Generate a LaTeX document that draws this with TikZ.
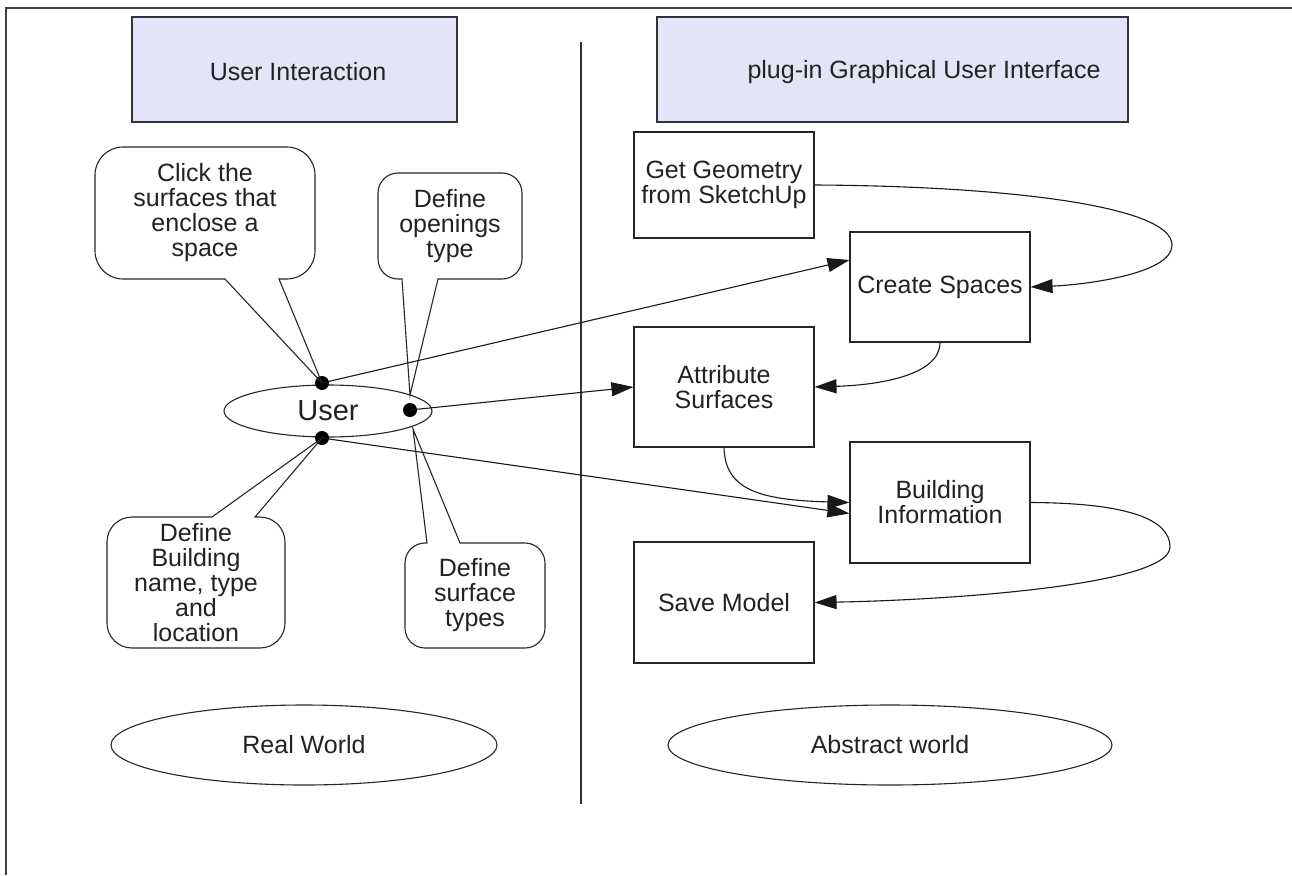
\documentclass[tikz,border=0pt]{standalone}
\usepackage{fontspec}
\setmainfont{Liberation Sans}
\usetikzlibrary{arrows.meta,shapes.geometric}
\definecolor{headfill}{RGB}{228,228,248}
\definecolor{ink}{RGB}{34,34,34}

\begin{document}
\begin{tikzpicture}[x=1pt,y=-1pt,
  every node/.style={font=\fontsize{25}{25}\selectfont, text=ink},
  frameline/.style={draw=black!75, line width=1.4pt},
  header/.style={draw=black!80, line width=1.2pt, fill=headfill, inner sep=0},
  stepbox/.style={draw=black!85, line width=1.1pt, minimum width=180pt, inner sep=0, align=center},
  world/.style={draw=black!85, line width=1.1pt, ellipse, inner sep=0},
  bubble/.style={draw=black!85, line width=1.1pt},
  dot/.style={circle, fill=black, minimum size=14pt, inner sep=0},
  flow/.style={draw=black!90, line width=1.1pt, -{Triangle[length=22pt,width=14pt]}},
  label/.style={align=center}
]
% canvas
\useasboundingbox (0,0) rectangle (1292,875);
\fill[white] (0,0) rectangle (1292,875);
\coordinate (fl) at (6,875);
\coordinate (fc) at (6,8);
\coordinate (fr) at (1292,8);
\draw[frameline] (fl) -- (fc) -- (fr);

% column headers
\node[header, minimum width=325pt, minimum height=105pt] (hleft) at (294.5,69.5) {};
\node (hlefttext) at (298,72) {User Interaction};
\node[header, minimum width=471pt, minimum height=105pt] (hright) at (892.5,69.5) {};
\node (hrighttext) at (924,72) {plug-in Graphical User Interface};

% divider
\coordinate (dvtop) at (581,42);
\coordinate (dvbot) at (581,804);
\draw[draw=black!80, line width=1.1pt] (dvtop) -- (dvbot);

% the user
\node[world, minimum width=208pt, minimum height=52pt] (user) at (328,411) {};
\node (usertext) at (328,411) {\fontsize{29}{29}\selectfont User};
\node[dot] (dtop) at (322,383) {};
\node[dot] (dright) at (410,410) {};
\node[dot] (dbot) at (322,438) {};
\coordinate (tipopen) at (410,395);
\coordinate (tipsurf) at (413,429);

% speech bubbles
\draw[bubble] (dtop.center) -- (279,279) [rounded corners=28pt] -- (315,279) -- (315,147) -- (95,147) -- (95,279) [sharp corners] -- (225,279) -- cycle;
\node[label] (tclick) at (205,213) {Click the\\surfaces that\\enclose a\\space};

\draw[bubble] (tipopen) -- (438,279) [rounded corners=20pt] -- (522,279) -- (522,173) -- (378,173) -- (378,279) [sharp corners] -- (402,279) -- cycle;
\node[label] (topen) at (450,226) {Define\\openings\\type};

\draw[bubble] (dbot.center) -- (255,517) [rounded corners=25pt] -- (285,517) -- (285,648) -- (107,648) -- (107,517) [sharp corners] -- (212,517) -- cycle;
\node[label] (tbuild) at (196,583) {Define\\Building\\name, type\\and\\location};

\draw[bubble] (tipsurf) -- (460,543) [rounded corners=20pt] -- (545,543) -- (545,648) -- (405,648) -- (405,543) [sharp corners] -- (427,543) -- cycle;
\node[label] (tsurf) at (475,595) {Define\\surface\\types};

% plug-in steps
\node[stepbox, minimum height=106pt] (gg) at (724,185) {Get Geometry\\from SketchUp};
\node[stepbox, minimum height=110pt] (cs) at (940,287) {Create Spaces};
\node[stepbox, minimum height=120pt] (at) at (724,387) {Attribute\\Surfaces};
\node[stepbox, minimum height=121pt] (bi) at (940,502.5) {Building\\Information};
\node[stepbox, minimum height=121pt] (sm) at (724,602.5) {Save Model};

% worlds
\node[world, minimum width=386pt, minimum height=80pt] (real) at (304,745) {Real World};
\node[world, minimum width=444pt, minimum height=80pt] (abstract) at (890,745) {Abstract world};

% connectors
\draw[flow] (dtop.center) -- ([yshift=27pt]cs.west);
\draw[flow] (dright.center) -- (at.west);
\draw[flow] (dbot.center) -- ([yshift=-11pt]bi.west);
\draw[flow] (gg.east) .. controls (1000,186) and (1172,205) .. (1172,245) .. controls (1172,275) and (1080,285) .. (cs.east);
\draw[flow] (cs.south) .. controls (940,375) and (880,385) .. (at.east);
\draw[flow] (at.south) .. controls (725,490) and (760,500) .. (bi.west);
\draw[flow] (bi.east) .. controls (1130,503) and (1170,520) .. (1170,547) .. controls (1170,585) and (950,600) .. (sm.east);
\end{tikzpicture}
\end{document}
